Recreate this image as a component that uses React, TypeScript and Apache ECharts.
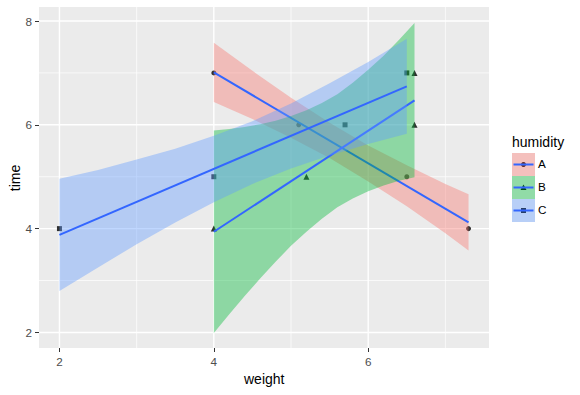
import { useEffect, useRef } from "react";
import * as echarts from "echarts";

// ---- data ----
const groups = ["A", "B", "C"];
const groupColors = ["#F8766D", "#00BA38", "#619CFF"];
const groupSymbols = ["circle", "triangle", "rect"];

const pointsA = [[4, 7], [5.1, 6], [6.5, 5], [7.3, 4]];
const pointsB = [[4, 4], [5.2, 5], [6.6, 7], [6.6, 6]];
const pointsC = [[2, 4], [4, 5], [5.7, 6], [6.5, 7]];

const fitA = [[4, 7.01], [7.3, 4.12]];
const fitB = [[4, 3.94], [6.6, 6.47]];
const fitC = [[2, 3.88], [6.5, 6.74]];

const bandAx = [4, 4.5, 5, 5.5, 6, 6.5, 7, 7.3];
const bandAlo = [6.44, 6.11, 5.75, 5.36, 4.91, 4.43, 3.91, 3.58];
const bandAhi = [7.58, 7.04, 6.52, 6.04, 5.6, 5.22, 4.86, 4.66];

const bandBx = [4, 4.2, 4.4, 4.6, 4.8, 5.0, 5.2, 5.4, 5.6, 5.8, 6.0, 6.2, 6.4, 6.6];
const bandBlo = [1.99, 2.35, 2.7, 3.04, 3.36, 3.67, 3.94, 4.19, 4.41, 4.58, 4.72, 4.83, 4.92, 4.99];
const bandBhi = [5.89, 5.92, 5.96, 6.01, 6.08, 6.17, 6.28, 6.42, 6.59, 6.81, 7.06, 7.33, 7.64, 7.96];

const bandCx = [2, 2.5, 3, 3.5, 4, 4.5, 5, 5.5, 6, 6.5];
const bandClo = [2.8, 3.25, 3.7, 4.12, 4.51, 4.86, 5.16, 5.41, 5.63, 5.83];
const bandChi = [4.96, 5.13, 5.33, 5.54, 5.79, 6.07, 6.41, 6.8, 7.21, 7.66];

const xTicks = [2, 4, 6];
const xMinor = [3, 5, 7];
const yTicks = [2, 4, 6, 8];
const yMinor = [3, 5, 7];

const X_MIN = 1.735;
const X_MAX = 7.565;
const Y_MIN = 1.7;
const Y_MAX = 8.27;

const FONT = "'Liberation Sans', Arial, sans-serif";

function hexToRgba(hex: string, a: number) {
  const n = parseInt(hex.slice(1), 16);
  return `rgba(${(n >> 16) & 255},${(n >> 8) & 255},${n & 255},${a})`;
}

function rows(xs: number[], lo: number[], hi: number[]) {
  return xs.map((x, i) => [x, lo[i], hi[i]]);
}

export default function App() {
  const ref = useRef<HTMLDivElement>(null);

  useEffect(() => {
    if (!ref.current) return;
    const chart = echarts.init(ref.current, undefined, { renderer: "svg" });

    const bands = [
      rows(bandAx, bandAlo, bandAhi),
      rows(bandBx, bandBlo, bandBhi),
      rows(bandCx, bandClo, bandChi),
    ];
    const fits = [fitA, fitB, fitC];
    const pts = [pointsA, pointsB, pointsC];

    const series: any[] = [];

    // panel grid lines
    series.push({
      type: "custom",
      silent: true,
      z: 1,
      data: [[X_MIN, Y_MIN]],
      renderItem: (params: any, api: any) => {
        const children: any[] = [];
        const vline = (v: number, w: number) => {
          const a = api.coord([v, Y_MIN]);
          const b = api.coord([v, Y_MAX]);
          children.push({ type: "line", shape: { x1: a[0], y1: a[1], x2: b[0], y2: b[1] }, style: { stroke: "#FFFFFF", lineWidth: w } });
        };
        const hline = (v: number, w: number) => {
          const a = api.coord([X_MIN, v]);
          const b = api.coord([X_MAX, v]);
          children.push({ type: "line", shape: { x1: a[0], y1: a[1], x2: b[0], y2: b[1] }, style: { stroke: "#FFFFFF", lineWidth: w } });
        };
        xMinor.forEach((v) => vline(v, 0.7));
        yMinor.forEach((v) => hline(v, 0.7));
        xTicks.forEach((v) => vline(v, 1.4));
        yTicks.forEach((v) => hline(v, 1.4));
        return { type: "group", children };
      },
    });

    // points (drawn beneath ribbons)
    groups.forEach((g, i) => {
      series.push({
        type: "scatter",
        name: g,
        z: 2,
        data: pts[i],
        symbol: groupSymbols[i],
        symbolSize: i === 1 ? 6 : 5,
        itemStyle: { color: "#000000" },
        silent: true,
      });
    });

    // ribbons and fitted lines
    groups.forEach((g, i) => {
      const fill = hexToRgba(groupColors[i], 0.4);
      const data = bands[i];
      series.push({
        type: "custom",
        name: g + " band",
        z: 3 + i * 2,
        silent: true,
        data,
        renderItem: (params: any, api: any) => {
          if (params.dataIndex !== 0) return null;
          const upper = data.map((r) => api.coord([r[0], r[2]]));
          const lower = data.slice().reverse().map((r) => api.coord([r[0], r[1]]));
          return { type: "polygon", shape: { points: upper.concat(lower) }, style: { fill } };
        },
      });
      series.push({
        type: "line",
        name: g + " fit",
        z: 4 + i * 2,
        data: fits[i],
        symbol: "none",
        lineStyle: { color: "#3366FF", width: 2 },
        silent: true,
      });
    });

    // legend (drawn as graphics)
    const legendX = 512;
    const keyTop = 153;
    const keySize = 23;
    const graphic: any[] = [
      { type: "text", left: legendX, top: 135, style: { text: "humidity", fontSize: 14, fontFamily: FONT, fill: "#000" } },
      { type: "text", left: 244, top: 372, style: { text: "weight", fontSize: 14, fontFamily: FONT, fill: "#000" } },
      {
        type: "text",
        x: 15,
        y: 178,
        rotation: Math.PI / 2,
        style: { text: "time", fontSize: 14, fontFamily: FONT, fill: "#000", align: "center", verticalAlign: "middle" },
      },
    ];
    groups.forEach((g, i) => {
      const y0 = keyTop + i * keySize;
      const cx = legendX + keySize / 2;
      const cy = y0 + keySize / 2;
      graphic.push({ type: "rect", shape: { x: legendX, y: y0, width: keySize, height: keySize }, style: { fill: "#F2F2F2" } });
      if (i === 0) graphic.push({ type: "circle", shape: { cx, cy, r: 2.5 }, style: { fill: "#000" } });
      if (i === 1) graphic.push({ type: "polygon", shape: { points: [[cx, cy - 3], [cx - 3, cy + 2.5], [cx + 3, cy + 2.5]] }, style: { fill: "#000" } });
      if (i === 2) graphic.push({ type: "rect", shape: { x: cx - 2.5, y: cy - 2.5, width: 5, height: 5 }, style: { fill: "#000" } });
      graphic.push({ type: "rect", shape: { x: legendX, y: y0, width: keySize, height: keySize }, style: { fill: hexToRgba(groupColors[i], 0.4) } });
      graphic.push({ type: "line", shape: { x1: legendX + 1.5, y1: cy, x2: legendX + keySize - 1.5, y2: cy }, style: { stroke: "#3366FF", lineWidth: 2 } });
      graphic.push({ type: "text", left: legendX + keySize + 3, top: cy - 7, style: { text: g, fontSize: 11.7, fontFamily: FONT, fill: "#000" } });
    });

    chart.setOption({
      animation: false,
      textStyle: { fontFamily: FONT },
      grid: { left: 39, right: 91, top: 7, bottom: 47, show: true, backgroundColor: "#EBEBEB", borderWidth: 0 },
      xAxis: {
        type: "value",
        min: X_MIN,
        max: X_MAX,
        axisLine: { show: false },
        splitLine: { show: false },
        axisTick: { show: true, length: 4, customValues: xTicks, lineStyle: { color: "#333333", width: 1 } },
        axisLabel: { customValues: xTicks, color: "#4D4D4D", fontSize: 11.7, margin: 7, fontFamily: FONT },
      },
      yAxis: {
        type: "value",
        min: Y_MIN,
        max: Y_MAX,
        axisLine: { show: false },
        splitLine: { show: false },
        axisTick: { show: true, length: 4, customValues: yTicks, lineStyle: { color: "#333333", width: 1 } },
        axisLabel: { customValues: yTicks, color: "#4D4D4D", fontSize: 11.7, margin: 7, fontFamily: FONT },
      },
      graphic,
      series,
    });

    return () => chart.dispose();
  }, []);

  return <div ref={ref} style={{ position: "fixed", left: 0, top: 0, width: 580, height: 395, background: "#FFFFFF" }} />;
}
